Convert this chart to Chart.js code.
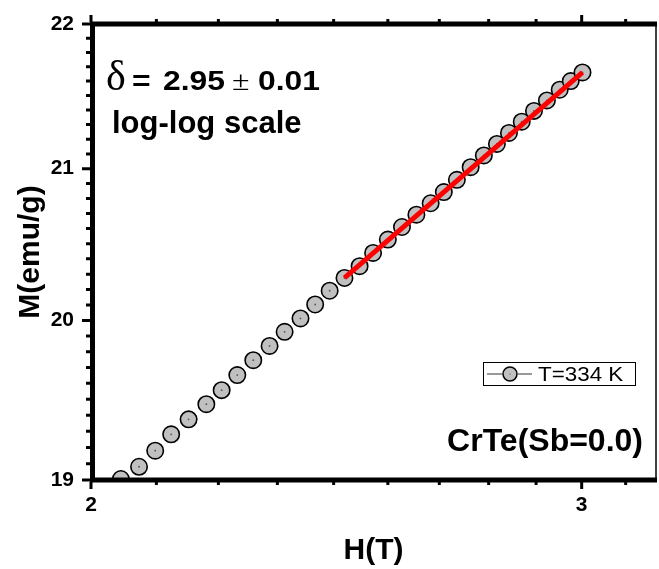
<!DOCTYPE html>
<html>
<head>
<meta charset="utf-8">
<script src="https://cdn.jsdelivr.net/npm/chart.js@4/dist/chart.umd.min.js"></script>
<style>
  html, body { margin: 0; padding: 0; background: #fff; }
  #chart { display: block; }
</style>
</head>
<body>
<canvas id="chart" width="659" height="569"></canvas>
<script>
// measured data, T = 334 K
const fieldH = [2.050, 2.081, 2.109, 2.137, 2.168, 2.200, 2.228, 2.257, 2.287, 2.318, 2.347,
                2.378, 2.407, 2.436, 2.466, 2.497, 2.525, 2.556, 2.586, 2.617, 2.648, 2.677,
                2.706, 2.737, 2.767, 2.797, 2.825, 2.855, 2.884, 2.915, 2.946, 2.973, 3.002];
const magM = [19.006, 19.081, 19.180, 19.281, 19.374, 19.469, 19.557, 19.652, 19.746, 19.837, 19.927,
              20.013, 20.103, 20.192, 20.275, 20.352, 20.439, 20.527, 20.610, 20.692, 20.768, 20.843,
              20.925, 21.010, 21.090, 21.168, 21.243, 21.320, 21.394, 21.466, 21.540, 21.600, 21.660];

// linear fit on log-log (delta = 2.95)
const fitH = [2.466, 3.002];
const fitM = [20.275, 21.660];

// ticks
const xMajorTicks = [2, 3];
const xMinorTicks = [2.111, 2.222, 2.333, 2.444, 2.556, 2.667, 2.778, 2.889, 3.111];
const yMajorTicks = [19, 20, 21, 22];
const yMinorTicks = [];
for (let m = 19; m < 22; m++) {
    for (let k = 1; k < 10; k++) yMinorTicks.push(+(m + k / 10).toFixed(1));
}

const SANS = '"Liberation Sans", Arial, sans-serif';
const SERIF = '"Liberation Serif", "Times New Roman", serif';

const points = fieldH.map((h, i) => ({ x: h, y: magM[i] }));
const fitLine = fitH.map((h, i) => ({ x: h, y: fitM[i] }));

// frame, ticks, legend and notes
const framePlugin = {
    id: 'frame',
    afterDraw(chart) {
        const ctx = chart.ctx;
        const { left, right, top, bottom } = chart.chartArea;
        const xs = chart.scales.x, ys = chart.scales.y;
        ctx.save();
        ctx.strokeStyle = '#000';
        ctx.lineCap = 'butt';

        // right border (thin)
        ctx.lineWidth = 1.5;
        ctx.beginPath();
        ctx.moveTo(right, top);
        ctx.lineTo(right, bottom);
        ctx.stroke();

        // thick axes
        ctx.lineWidth = 5;
        ctx.beginPath();
        ctx.moveTo(left + 1.5, top - 2.5);
        ctx.lineTo(left + 1.5, bottom + 2.5);
        ctx.moveTo(left - 1, bottom);
        ctx.lineTo(right + 1, bottom);
        ctx.moveTo(left - 1, top);
        ctx.lineTo(right + 1, top);
        ctx.stroke();

        // ticks
        ctx.lineWidth = 3;
        ctx.beginPath();
        yMajorTicks.forEach(v => {
            const py = ys.getPixelForValue(v);
            ctx.moveTo(left - 1, py); ctx.lineTo(left - 9, py);
        });
        yMinorTicks.forEach(v => {
            const py = ys.getPixelForValue(v);
            ctx.moveTo(left - 1, py); ctx.lineTo(left - 5, py);
        });
        xMajorTicks.forEach(v => {
            const px = xs.getPixelForValue(v);
            ctx.moveTo(px, bottom + 2); ctx.lineTo(px, bottom + 9);
            ctx.moveTo(px, top - 2); ctx.lineTo(px, top - 9);
        });
        xMinorTicks.forEach(v => {
            const px = xs.getPixelForValue(v);
            if (px > right) return;
            ctx.moveTo(px, bottom + 2); ctx.lineTo(px, bottom + 5);
            ctx.moveTo(px, top - 2); ctx.lineTo(px, top - 5);
        });
        ctx.stroke();

        // legend
        ctx.lineWidth = 1;
        ctx.strokeStyle = '#000';
        ctx.strokeRect(483.5, 362.5, 152, 23);
        ctx.strokeStyle = '#333';
        ctx.beginPath();
        ctx.moveTo(487, 374); ctx.lineTo(502, 374);
        ctx.moveTo(518, 374); ctx.lineTo(532, 374);
        ctx.stroke();
        ctx.beginPath();
        ctx.arc(510, 374, 7, 0, Math.PI * 2);
        ctx.fillStyle = '#c0c0c0';
        ctx.fill();
        ctx.lineWidth = 1.5;
        ctx.strokeStyle = '#000';
        ctx.stroke();
        ctx.fillStyle = '#555';
        ctx.fillRect(509.5, 373.5, 1, 1);

        ctx.fillStyle = '#000';
        ctx.textBaseline = 'alphabetic';
        ctx.textAlign = 'left';
        ctx.save();
        ctx.translate(538, 381);
        ctx.scale(1.12, 1);
        ctx.font = '20px ' + SANS;
        ctx.fillText('T=334 K', 0, 0);
        ctx.restore();

        // sample name
        ctx.textAlign = 'right';
        ctx.font = 'bold 32px ' + SANS;
        ctx.fillText('CrTe(Sb=0.0)', 643, 451);

        // exponent text
        ctx.textAlign = 'left';
        ctx.font = '42px ' + SERIF;
        ctx.fillText('\u03B4', 106, 90);
        const piece = (txt, x, font) => {
            ctx.save();
            ctx.translate(x, 90);
            ctx.scale(1.18, 1);
            ctx.font = font;
            ctx.fillText(txt, 0, 0);
            ctx.restore();
        };
        piece('=', 132, 'bold 27px ' + SANS);
        piece('2.95', 163, 'bold 27px ' + SANS);
        piece('\u00B1', 232, '27px ' + SERIF);
        piece('0.01', 258, 'bold 27px ' + SANS);

        ctx.font = 'bold 31px ' + SANS;
        ctx.fillText('log-log scale', 112, 133);
        ctx.restore();
    }
};

new Chart(document.getElementById('chart'), {
    type: 'scatter',
    data: {
        datasets: [
            {
                label: 'fit',
                data: fitLine,
                showLine: true,
                borderColor: '#ff0000',
                borderWidth: 5,
                pointRadius: 0,
                order: 0
            },
            {
                label: 'centre',
                data: points,
                pointRadius: 0.9,
                backgroundColor: '#555',
                borderWidth: 0,
                clip: 0,
                order: 1
            },
            {
                label: 'T=334 K',
                data: points,
                pointRadius: 8.2,
                backgroundColor: '#c0c0c0',
                borderColor: '#000',
                borderWidth: 1.6,
                clip: 0,
                order: 2
            }
        ]
    },
    options: {
        responsive: false,
        animation: false,
        layout: { autoPadding: false, padding: { left: 0, right: 3, top: 24, bottom: 0 } },
        plugins: { legend: { display: false }, tooltip: { enabled: false } },
        scales: {
            x: {
                type: 'logarithmic',
                position: 'bottom',
                min: 2,
                max: 3.19,
                afterBuildTicks: s => { s.ticks = xMajorTicks.map(v => ({ value: v })); },
                afterFit: s => { s.height = 89; s.paddingLeft = 0; s.paddingRight = 0; },
                grid: { display: false, drawTicks: false },
                border: { display: false },
                ticks: {
                    autoSkip: false, maxRotation: 0, padding: 13, color: '#000',
                    font: { family: SANS, size: 21, weight: 'bold' },
                    callback: v => String(v)
                },
                title: {
                    display: true, text: 'H(T)', color: '#000',
                    font: { family: SANS, size: 30, weight: 'bold' },
                    padding: { top: 0, bottom: 0 }
                }
            },
            y: {
                type: 'logarithmic',
                position: 'left',
                min: 19,
                max: 22,
                afterBuildTicks: s => { s.ticks = yMajorTicks.map(v => ({ value: v })); },
                afterFit: s => { s.width = 91; s.paddingTop = 0; s.paddingBottom = 0; },
                grid: { display: false, drawTicks: false },
                border: { display: false },
                ticks: {
                    autoSkip: false, padding: 17, color: '#000',
                    font: { family: SANS, size: 21, weight: 'bold' },
                    callback: v => String(v)
                },
                title: {
                    display: true, text: 'M(emu/g)', color: '#000',
                    font: { family: SANS, size: 30, weight: 'bold' },
                    padding: { top: 13, bottom: 0 }
                }
            }
        }
    },
    plugins: [framePlugin]
});
</script>
</body>
</html>
